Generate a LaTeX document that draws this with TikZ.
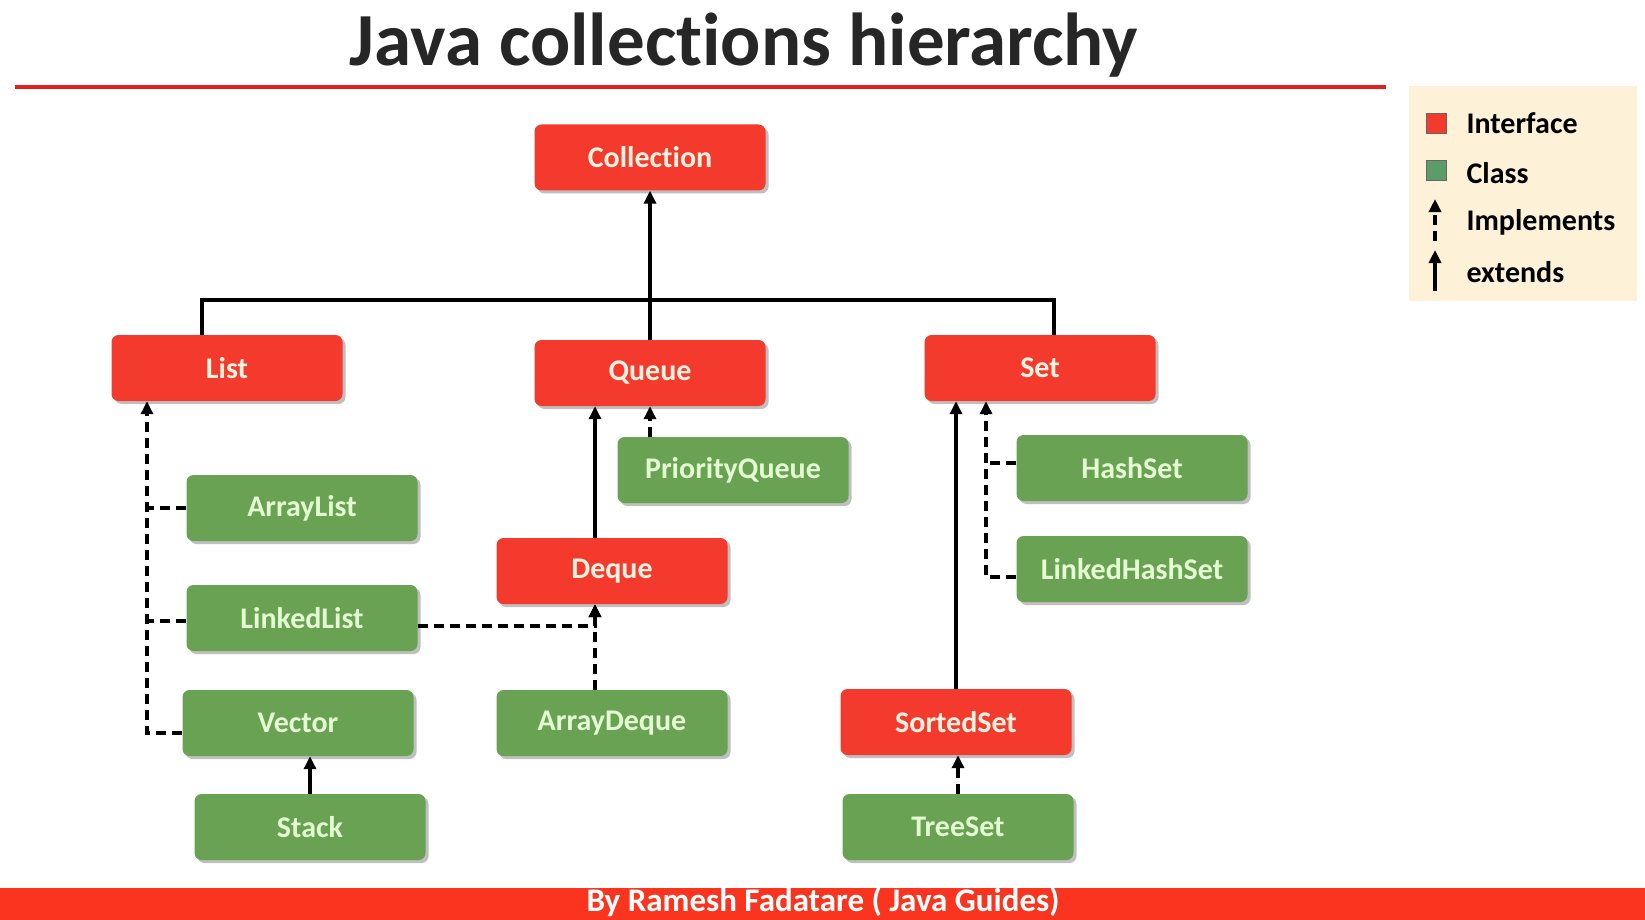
\documentclass[tikz,border=0pt]{standalone}
\usepackage{fontspec}
\setmainfont{Carlito}[Ligatures={NoCommon}]
\usetikzlibrary{arrows.meta,shadows}
\definecolor{ired}{RGB}{244,58,44}
\definecolor{cgreen}{RGB}{106,162,84}
\definecolor{redtxt}{RGB}{255,242,225}
\definecolor{greentxt}{RGB}{228,252,210}
\definecolor{legbg}{RGB}{253,241,216}
\definecolor{titlegray}{RGB}{38,38,38}
\definecolor{legreen}{RGB}{92,156,104}
\definecolor{linered}{RGB}{232,30,30}
\definecolor{footred}{RGB}{250,52,30}
\begin{document}
\begin{tikzpicture}[x=1pt,y=-1pt,
  box/.style={rounded corners=7pt, minimum width=231pt, minimum height=66pt, inner sep=0pt,
    font=\fontsize{30}{36}\selectfont\bfseries,
    drop shadow={shadow xshift=3pt, shadow yshift=-3pt, fill=black, opacity=0.25}},
  iface/.style={box, fill=ired, text=redtxt},
  cls/.style={box, fill=cgreen, text=greentxt},
  solidline/.style={line width=3.6pt},
  ext/.style={line width=3.6pt, -{Triangle[length=13pt,width=12pt]}},
  implline/.style={line width=3.6pt, dash pattern=on 10pt off 6pt},
  implarrow/.style={implline, -{Triangle[length=13pt,width=12pt]}},
  legtext/.style={anchor=west, font=\fontsize{30}{36}\selectfont\bfseries, text=black},
  legsq/.style={draw=black!60, line width=0.8pt, minimum size=20pt, inner sep=0pt}
]
\useasboundingbox (0,0) rectangle (1645,920);
\fill[white] (0,0) rectangle (1645,920);

% title
\node[anchor=base, font=\fontsize{75}{80}\selectfont\bfseries, text=titlegray] (title) at (744,66) {Java collections hierarchy};
\draw[line width=4pt, linered] (15,87.5) -- (1386,87.5);

% footer
\fill[footred] (0,888) rectangle (1645,920);
\node[anchor=base, font=\fontsize{33}{38}\selectfont\bfseries, text=white] (footer) at (823,911) {By Ramesh Fadatare ( Java Guides)};

% legend
\fill[legbg] (1409,86) rectangle (1637,301);
\node[legsq, fill=ired] (lsq1) at (1436,123) {};
\node[legsq, fill=legreen] (lsq2) at (1436,170) {};
\node[legtext] (lt1) at (1463,123) {Interface};
\node[legtext] (lt2) at (1463,173) {Class};
\node[legtext] (lt3) at (1463,222) {Implements};
\node[legtext] (lt4) at (1463,272) {extends};
\coordinate (li1) at (1435,241);
\coordinate (li2) at (1435,199);
\coordinate (le1) at (1435,291);
\coordinate (le2) at (1435,250);
\draw[implarrow] (li1) -- (li2);
\draw[ext] (le1) -- (le2);

% nodes
\node[iface] (coll) at (650,157.5) {Collection};
\node[iface] (list) at (227,368) {List};
\node[iface] (queue) at (650,373) {Queue};
\node[iface] (set) at (1040,368) {Set};
\node[cls] (pq) at (733,470) {PriorityQueue};
\node[cls] (arraylist) at (302,508) {ArrayList};
\node[cls] (hashset) at (1132,468) {HashSet};
\node[cls] (lhs) at (1132,569) {LinkedHashSet};
\node[iface] (deque) at (612,571) {Deque};
\node[cls] (linkedlist) at (302,618) {LinkedList};
\node[cls] (vector) at (298,723) {Vector};
\node[cls] (arraydeque) at (612,723) {ArrayDeque};
\node[iface] (sortedset) at (956,722) {SortedSet};
\node[cls] (stack) at (310,827) {Stack};
\node[cls] (treeset) at (958,827) {TreeSet};

% Collection hierarchy
\draw[ext] (queue.north) -- (coll.south);
\coordinate (bl) at (202,300);
\coordinate (br) at (1054,300);
\draw[solidline] (bl |- list.north) -- (bl) -- (br) -- (br |- set.north);

% List implementers
\coordinate (lx) at ([xshift=-80pt]list.south);
\draw[implarrow] ([yshift=-10pt]vector.west) -| (lx);
\draw[implline] (arraylist.west) -- (arraylist.west -| lx);
\draw[implline] ([yshift=-3pt]linkedlist.west) -- ([yshift=-3pt]linkedlist.west -| lx);

% Queue
\coordinate (dqt) at ([xshift=-17pt]deque.north);
\draw[ext] (dqt) -- (dqt |- queue.south);
\draw[implarrow] (pq.north -| queue.south) -- (queue.south);

% Deque
\coordinate (dqb) at ([xshift=-17pt]deque.south);
\draw[implarrow] (arraydeque.north -| dqb) -- (dqb);
\draw[implarrow] ([yshift=-8pt]linkedlist.east) -| (dqb);

% Set
\draw[ext] (sortedset.north) -- (sortedset.north |- set.south);
\coordinate (sx) at ([xshift=-54pt]set.south);
\draw[implarrow] ([yshift=-8pt]lhs.west) -| (sx);
\draw[implline] ([yshift=5pt]hashset.west) -- ([yshift=5pt]hashset.west -| sx);

% Stack, TreeSet
\draw[ext] (stack.north) -- (stack.north |- vector.south);
\draw[implarrow] (treeset.north) -- (treeset.north |- sortedset.south);
\end{tikzpicture}
\end{document}
